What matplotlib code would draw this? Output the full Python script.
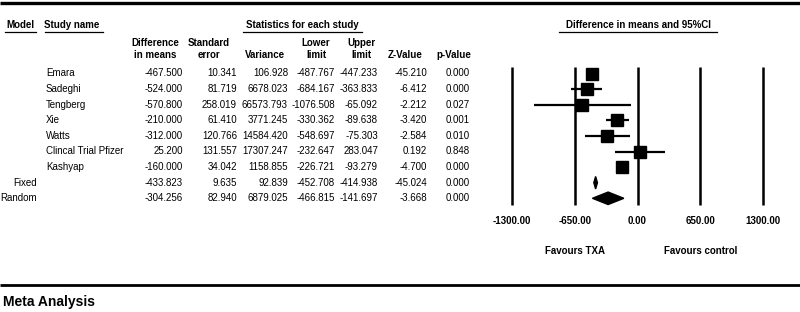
import matplotlib
matplotlib.use('Agg')
from matplotlib import pyplot as plt
from matplotlib.patches import Polygon

plt.rcParams['font.family'] = ['Liberation Sans', 'DejaVu Sans']

# study rows
studies = ['Emara', 'Sadeghi', 'Tengberg', 'Xie', 'Watts', 'Clincal Trial Pfizer', 'Kashyap']
diff = [-467.500, -524.000, -570.800, -210.000, -312.000, 25.200, -160.000]
se = [10.341, 81.719, 258.019, 61.410, 120.766, 131.557, 34.042]
var = [106.928, 6678.023, 66573.793, 3771.245, 14584.420, 17307.247, 1158.855]
lower = [-487.767, -684.167, -1076.508, -330.362, -548.697, -232.647, -226.721]
upper = [-447.233, -363.833, -65.092, -89.638, -75.303, 283.047, -93.279]
zval = [-45.210, -6.412, -2.212, -3.420, -2.584, 0.192, -4.700]
pval = [0.000, 0.000, 0.027, 0.001, 0.010, 0.848, 0.000]

# summary rows
models = ['Fixed', 'Random']
m_diff = [-433.823, -304.256]
m_se = [9.635, 82.940]
m_var = [92.839, 6879.025]
m_lower = [-452.708, -466.815]
m_upper = [-414.938, -141.697]
m_z = [-45.024, -3.668]
m_p = [0.000, 0.000]

ticks = [-1300, -650, 0, 650, 1300]

FS = 7
Y0 = 73.5   # pixel y of first row
DY = 15.6   # row spacing in pixels

def row_y(i):
    return Y0 + DY * i

fig = plt.figure(figsize=(8, 3.12), dpi=100)

# background axes in pixel coordinates for the table
ax0 = fig.add_axes([0, 0, 1, 1])
ax0.set_xlim(0, 800)
ax0.set_ylim(312, 0)
ax0.axis('off')

ax0.plot([0, 800], [3, 3], color='black', lw=2.4, solid_capstyle='butt')
ax0.plot([0, 800], [285, 285], color='black', lw=2.0, solid_capstyle='butt')

# top headers with underlines
heads = [('Model', 20, 5, 36), ('Study name', 72, 45, 103),
         ('Statistics for each study', 302, 243, 362),
         ('Difference in means and 95%CI', 638, 559, 717)]
for txt, xc, x1, x2 in heads:
    ax0.text(xc, 25, txt, ha='center', va='center', fontsize=FS, fontweight='bold')
    ax0.plot([x1, x2], [31.5, 31.5], color='black', lw=0.9)

# column headers and value columns
cols = [('Difference\nin means', 155, 183, diff, m_diff, '%.3f'),
        ('Standard\nerror', 209, 237, se, m_se, '%.3f'),
        ('Variance', 265, 288, var, m_var, '%.3f'),
        ('Lower\nlimit', 316, 335, lower, m_lower, '%.3f'),
        ('Upper\nlimit', 361, 378, upper, m_upper, '%.3f'),
        ('Z-Value', 405, 427, zval, m_z, '%.3f'),
        ('p-Value', 454, 470, pval, m_p, '%.3f')]
for head, xc, xr, vals, mvals, fmt in cols:
    lines = head.split('\n')
    if len(lines) == 1:
        lines = [''] + lines
    ax0.text(xc, 43, lines[0], ha='center', va='center', fontsize=FS, fontweight='bold')
    ax0.text(xc, 55, lines[1], ha='center', va='center', fontsize=FS, fontweight='bold')
    for i, v in enumerate(list(vals) + list(mvals)):
        ax0.text(xr, row_y(i), fmt % v, ha='right', va='center', fontsize=FS)

for i, s in enumerate(studies):
    ax0.text(46, row_y(i), s, ha='left', va='center', fontsize=FS)
for j, m in enumerate(models):
    ax0.text(37, row_y(len(studies) + j), m, ha='right', va='center', fontsize=FS)

ax0.text(3, 302, 'Meta Analysis', ha='left', va='center', fontsize=10, fontweight='bold')

# forest plot axes
top = Y0 - 0.75 * DY
bot = Y0 + 8.75 * DY
ax = fig.add_axes([512 / 800, (312 - bot) / 312, 251 / 800, (bot - top) / 312])
ax.set_xlim(-1300, 1300)
ax.set_ylim(8.75, -0.75)
for sp in ax.spines.values():
    sp.set_visible(False)
ax.set_yticks([])
ax.set_xticks(ticks)
ax.set_xticklabels(['%.2f' % t for t in ticks], fontsize=FS, fontweight='bold')
ax.tick_params(axis='x', length=0, pad=4.5)
ax.patch.set_alpha(0)

ax.vlines(ticks, (66.7 - Y0) / DY, (205 - Y0) / DY, color='black', lw=1.8, clip_on=False)

rows = list(range(len(studies)))
ax.hlines(rows, lower, upper, color='black', lw=1.6, clip_on=False)
ax.plot(diff, rows, 's', color='black', ms=8.6, mec='black', clip_on=False)

h = 0.4
for j in range(len(models)):
    y = len(studies) + j
    ax.add_patch(Polygon([(m_lower[j], y), (m_diff[j], y - h), (m_upper[j], y), (m_diff[j], y + h)],
                         closed=True, color='black', clip_on=False))

fy = (251 - Y0) / DY
ax.text(-650, fy, 'Favours TXA', ha='center', va='center', fontsize=FS, fontweight='bold', clip_on=False)
ax.text(650, fy, 'Favours control', ha='center', va='center', fontsize=FS, fontweight='bold', clip_on=False)

fig.savefig('out.png', dpi=100)
